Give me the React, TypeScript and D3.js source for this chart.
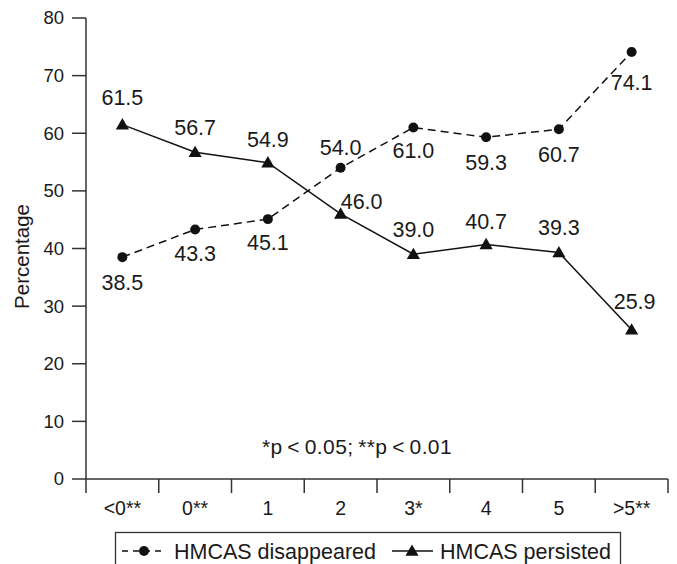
import React from "react";
import {scaleBand, scaleLinear, line, symbol, symbolTriangle, symbolCircle} from "d3";

const width = 677;
const height = 564;
const font = "'Liberation Sans', Arial, Helvetica, sans-serif";

const categories = ["<0**", "0**", "1", "2", "3*", "4", "5", ">5**"];
const disappeared = [38.5, 43.3, 45.1, 54.0, 61.0, 59.3, 60.7, 74.1];
const persisted = [61.5, 56.7, 54.9, 46.0, 39.0, 40.7, 39.3, 25.9];
const yTicks = [0, 10, 20, 30, 40, 50, 60, 70, 80];

// where each value label sits relative to its point
const disapOffsets = [[0, 25], [0, 24], [0, 23], [0, -20], [0, 23], [0, 25], [0, 25], [0, 30]];
const persOffsets = [[0, -27], [0, -25], [0, -23], [21, -12], [0, -25], [0, -23], [0, -25], [3, -28]];

const x = scaleBand<string>().domain(categories).range([86, 668]).padding(0);
const y = scaleLinear().domain([0, 80]).range([479, 18]);
const cx = (i: number) => (x(categories[i]) as number) + x.bandwidth() / 2;

const pathLine = line<number>().x((d, i) => cx(i)).y(d => y(d));
const tri = symbol().type(symbolTriangle).size(75)();
const dot = symbol().type(symbolCircle).size(78)();

function App() {
    const axisColor = "#333";
    const ink = "#1a1a1a";
    return (
        <svg width={width} height={height} style={{position: "absolute", left: 0, top: 0, background: "#fff"}}
             fontFamily={font}>
            {/* y axis */}
            <line x1={86} x2={86} y1={y(80)} y2={y(0)} stroke={axisColor} strokeWidth={1.5}/>
            {yTicks.map(t => (
                <g key={t}>
                    <line x1={72} x2={86} y1={y(t)} y2={y(t)} stroke={axisColor} strokeWidth={1.5}/>
                    <text x={64} y={y(t)} dy="0.35em" textAnchor="end" fontSize={18.5} fill={ink}>{t}</text>
                </g>
            ))}
            <text transform={`translate(22,${(y(80) + y(0)) / 2 + 8}) rotate(-90)`} textAnchor="middle"
                  dy="0.35em" fontSize={20.5} fill={ink}>Percentage</text>

            {/* x axis */}
            <line x1={86} x2={668} y1={y(0)} y2={y(0)} stroke={axisColor} strokeWidth={1.5}/>
            {categories.concat(["end"]).map((c, i) => (
                <line key={"t" + i} x1={86 + i * x.bandwidth()} x2={86 + i * x.bandwidth()} y1={y(0)}
                      y2={y(0) + 14} stroke={axisColor} strokeWidth={1.5}/>
            ))}
            {categories.map((c, i) => (
                <text key={c} x={cx(i)} y={508} dy="0.35em" textAnchor="middle" fontSize={19.5}
                      fill={ink}>{c}</text>
            ))}

            {/* series */}
            <path d={pathLine(disappeared) || ""} fill="none" stroke="#111" strokeWidth={1.5}
                  strokeDasharray="8,5"/>
            <path d={pathLine(persisted) || ""} fill="none" stroke="#111" strokeWidth={1.5}/>
            {disappeared.map((d, i) => (
                <g key={"d" + i}>
                    <path d={dot || ""} transform={`translate(${cx(i)},${y(d)})`} fill="#111"/>
                    <text x={cx(i) + disapOffsets[i][0]} y={y(d) + disapOffsets[i][1]} dy="0.35em"
                          textAnchor="middle" fontSize={21.5} fill={ink}>{d.toFixed(1)}</text>
                </g>
            ))}
            {persisted.map((d, i) => (
                <g key={"p" + i}>
                    <path d={tri || ""} transform={`translate(${cx(i)},${y(d) + 1})`} fill="#111"/>
                    <text x={cx(i) + persOffsets[i][0]} y={y(d) + persOffsets[i][1]} dy="0.35em"
                          textAnchor="middle" fontSize={21.5} fill={ink}>{d.toFixed(1)}</text>
                </g>
            ))}

            <text x={357} y={447} dy="0.35em" textAnchor="middle" fontSize={21} fill={ink}
                  wordSpacing={-1.5} letterSpacing={0.4}>*p &lt; 0.05; **p &lt; 0.01</text>

            {/* legend */}
            <rect x={115.5} y={532.5} width={505} height={40} fill="none" stroke={axisColor} strokeWidth={1.3}/>
            <line x1={122} x2={166} y1={551} y2={551} stroke="#111" strokeWidth={1.5} strokeDasharray="6,5"/>
            <path d={dot || ""} transform="translate(144,551)" fill="#111"/>
            <text x={174} y={551} dy="0.35em" fontSize={21.5} fill={ink}>HMCAS disappeared</text>
            <line x1={392} x2={433} y1={551} y2={551} stroke="#111" strokeWidth={1.5}/>
            <path d={tri || ""} transform="translate(412,552)" fill="#111"/>
            <text x={440} y={551} dy="0.35em" fontSize={21.5} fill={ink}>HMCAS persisted</text>
        </svg>
    );
}

export default App;
